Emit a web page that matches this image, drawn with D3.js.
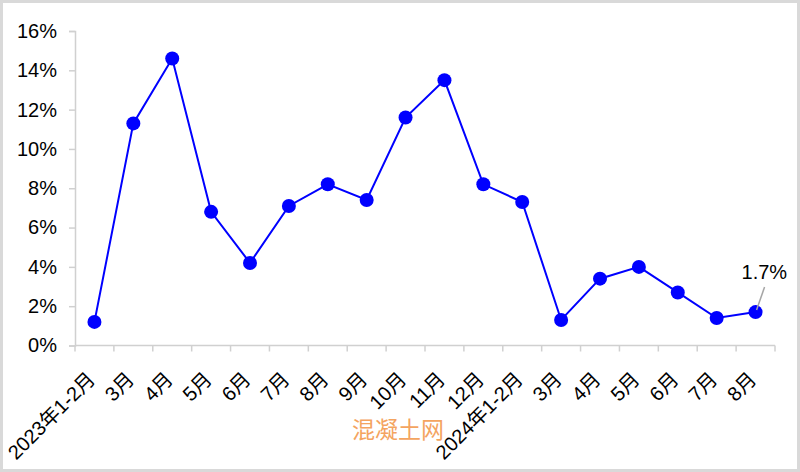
<!DOCTYPE html>
<html>
<head>
<meta charset="utf-8">
<script src="https://cdn.jsdelivr.net/npm/d3@7"></script>
<style>
  html, body { margin: 0; padding: 0; background: #fff; }
  svg { display: block; }
  text { font-family: "Liberation Sans", Arial, "Noto Sans CJK SC", sans-serif; }
</style>
</head>
<body>
<svg id="chart" width="800" height="472"></svg>
<script>
const categories = ["2023年1-2月","3月","4月","5月","6月","7月","8月","9月","10月","11月","12月",
                    "2024年1-2月","3月","4月","5月","6月","7月","8月"];
const values = [1.2, 11.3, 14.6, 6.8, 4.2, 7.1, 8.2, 7.4, 11.6, 13.5, 8.2,
                7.3, 1.3, 3.4, 4.0, 2.7, 1.4, 1.7];
const yTicks = [0, 2, 4, 6, 8, 10, 12, 14, 16];
const annotationIndex = 17;
const annotationText = "1.7%";
const watermark = "混凝土网";

(function () {
const svg = d3.select("#chart");
const W = 800, H = 472;
const mLeft = 75, mRight = 775, mTop = 31, mBottom = 345.5;

svg.append("rect").attr("x", 1.5).attr("y", 1.5).attr("width", W - 3).attr("height", H - 3)
  .attr("fill", "#fff").attr("stroke", "#d9d9d9").attr("stroke-width", 3);

const idx = categories.map((d, i) => i);
const x = d3.scaleBand().domain(idx).range([mLeft, mRight]).padding(0);
const y = d3.scaleLinear().domain([0, 16]).range([mBottom, mTop]);
const cx = i => x(i) + x.bandwidth() / 2;

const axisColor = "#d0d0d0";

// Y axis
const yAxis = svg.append("g").attr("transform", `translate(${mLeft},0)`)
  .call(d3.axisLeft(y).tickValues(yTicks).tickSize(6).tickPadding(12).tickFormat(d => d + "%"));
yAxis.select(".domain").attr("stroke", axisColor).attr("stroke-width", 1.5);
yAxis.selectAll(".tick line").attr("stroke", axisColor).attr("stroke-width", 1.5);
yAxis.selectAll(".tick text").attr("fill", "#000").style("font-size", "20px")
  .style("font-family", "'Liberation Sans', Arial, sans-serif");

// X axis line and boundary ticks
const xg = svg.append("g");
xg.append("line").attr("x1", mLeft).attr("x2", mRight).attr("y1", mBottom).attr("y2", mBottom)
  .attr("stroke", axisColor).attr("stroke-width", 1.5);
const boundaries = idx.map(i => x(i)).concat([mRight]);
xg.selectAll("line.tk").data(boundaries).join("line").attr("class", "tk")
  .attr("x1", d => d).attr("x2", d => d).attr("y1", mBottom).attr("y2", mBottom + 6)
  .attr("stroke", axisColor).attr("stroke-width", 1.5);
xg.selectAll("text.xl").data(idx).join("text").attr("class", "xl")
  .attr("transform", i => `translate(${cx(i) + 2},${mBottom + 35}) rotate(-45)`)
  .attr("text-anchor", "end").attr("fill", "#000").style("font-size", "20px")
  .text(i => categories[i]);

// Line
const line = d3.line().x((d, i) => cx(i)).y(d => y(d));
svg.append("path").datum(values).attr("d", line)
  .attr("fill", "none").attr("stroke", "#0000ff").attr("stroke-width", 2);
svg.selectAll("circle.pt").data(values).join("circle").attr("class", "pt")
  .attr("cx", (d, i) => cx(i)).attr("cy", d => y(d)).attr("r", 7).attr("fill", "#0000ff");

// Annotation
const ax = cx(annotationIndex), ay = y(values[annotationIndex]);
svg.append("line").attr("x1", ax + 1).attr("y1", ay - 2).attr("x2", ax + 9).attr("y2", ay - 25)
  .attr("stroke", "#a6a6a6").attr("stroke-width", 1.5);
svg.append("text").attr("x", ax - 14).attr("y", ay - 33).attr("fill", "#000")
  .style("font-size", "20px").text(annotationText);

// Watermark
svg.append("text").attr("x", 352).attr("y", 438).attr("fill", "#f4a460")
  .style("font-size", "23px").style("font-family", "'Noto Sans CJK SC', sans-serif")
  .text(watermark);
})();
</script>
</body>
</html>
